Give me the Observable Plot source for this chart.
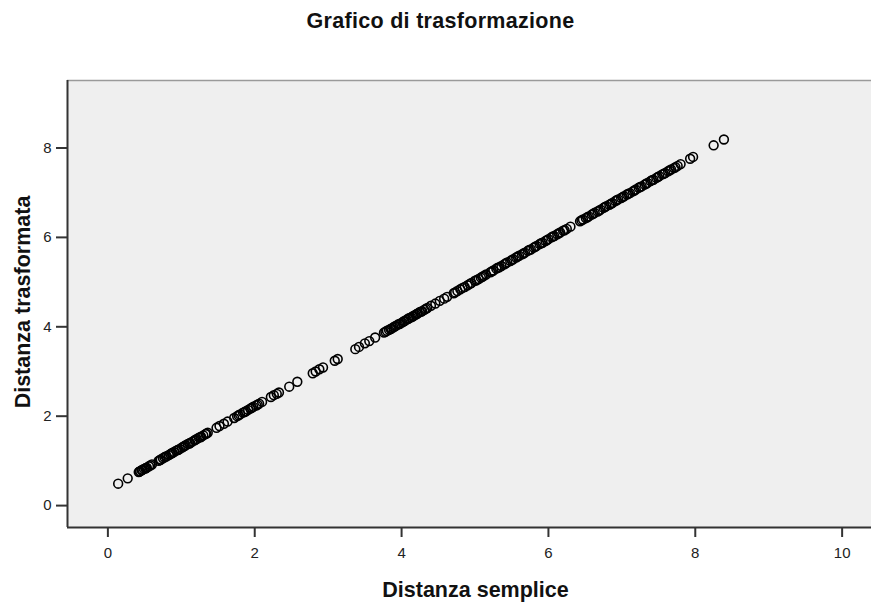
<!DOCTYPE html>
<html>
<head>
<meta charset="utf-8">
<script src="https://cdn.jsdelivr.net/npm/d3@7"></script>
<script src="https://cdn.jsdelivr.net/npm/@observablehq/plot@0.6"></script>
<style>
  html, body { margin: 0; padding: 0; background: white; }
  .lbl { letter-spacing: 0.3px; }
</style>
</head>
<body>
<div id="chart"></div>
<script>
const title = "Grafico di trasformazione";
const xLabel = "Distanza semplice";
const yLabel = "Distanza trasformata";
const xTicks = [0, 2, 4, 6, 8, 10];
const yTicks = [0, 2, 4, 6, 8];

// Distanza semplice (x) values
const xs = [
  0.14, 0.27, 0.42, 0.43, 0.44, 0.46, 0.47, 0.49, 0.51, 0.52, 0.53, 0.56, 0.58, 0.60,
  0.69, 0.71, 0.72, 0.75, 0.77, 0.79, 0.80, 0.83, 0.85, 0.87, 0.88, 0.90, 0.93, 0.95, 0.96, 0.98, 1.01, 1.03, 1.04, 1.06, 1.09, 1.11, 1.12, 1.15, 1.18, 1.19, 1.21, 1.24, 1.26, 1.27, 1.30, 1.33, 1.34, 1.36,
  1.48, 1.52, 1.58, 1.63,
  1.72, 1.76, 1.78, 1.80, 1.84, 1.86, 1.88, 1.91, 1.94, 1.96, 1.98, 2.02, 2.04, 2.06, 2.10,
  2.22, 2.26, 2.30, 2.33,
  2.47, 2.58,
  2.79, 2.83, 2.88, 2.93,
  3.09, 3.13,
  3.37, 3.42, 3.50, 3.56, 3.64,
  3.76, 3.78, 3.80, 3.83, 3.85, 3.86, 3.89, 3.91, 3.92, 3.95, 3.97, 3.98, 4.01, 4.03, 4.04, 4.07, 4.09, 4.10, 4.13, 4.15, 4.16, 4.19, 4.21, 4.22, 4.25, 4.27, 4.28, 4.31, 4.33, 4.35,
  4.40, 4.46, 4.52, 4.58, 4.62,
  4.71, 4.73, 4.76, 4.80, 4.83, 4.86, 4.90, 4.93, 4.95, 5.00, 5.02, 5.05, 5.08, 5.10, 5.12, 5.15,
  5.21, 5.23, 5.25, 5.29, 5.31, 5.33, 5.36, 5.40, 5.42, 5.44, 5.48, 5.50, 5.52, 5.56, 5.58, 5.60, 5.64, 5.66, 5.68, 5.72, 5.74, 5.76, 5.80, 5.82, 5.84, 5.88, 5.90, 5.92, 5.96, 5.98, 6.00, 6.04, 6.06, 6.08, 6.12, 6.14, 6.16, 6.20, 6.22, 6.25, 6.30,
  6.43, 6.45, 6.47, 6.51, 6.53, 6.55, 6.59, 6.61, 6.63, 6.67, 6.69, 6.71, 6.75, 6.77, 6.79, 6.83, 6.85, 6.87, 6.91, 6.93, 6.95, 6.99, 7.01, 7.03, 7.07, 7.09, 7.11, 7.15, 7.17, 7.19, 7.23, 7.25, 7.27, 7.31, 7.33, 7.35, 7.39, 7.41, 7.43, 7.47, 7.49, 7.51, 7.55, 7.57, 7.59, 7.63, 7.65, 7.67, 7.71, 7.73, 7.76,
  7.80, 7.93, 7.97, 8.25, 8.39
];

// Distanza trasformata (y) values
const ys = [
  0.49, 0.61, 0.75, 0.76, 0.77, 0.79, 0.80, 0.82, 0.83, 0.84, 0.85, 0.88, 0.90, 0.92,
  1.00, 1.02, 1.03, 1.06, 1.08, 1.10, 1.10, 1.13, 1.15, 1.17, 1.18, 1.20, 1.23, 1.24, 1.25, 1.27, 1.30, 1.32, 1.33, 1.35, 1.38, 1.39, 1.40, 1.43, 1.46, 1.47, 1.49, 1.52, 1.53, 1.54, 1.57, 1.60, 1.61, 1.63,
  1.74, 1.78, 1.83, 1.88,
  1.96, 2.00, 2.02, 2.04, 2.08, 2.09, 2.11, 2.14, 2.17, 2.19, 2.21, 2.24, 2.26, 2.28, 2.32,
  2.43, 2.47, 2.50, 2.53,
  2.66, 2.77,
  2.96, 3.00, 3.05, 3.09,
  3.24, 3.28,
  3.50, 3.55, 3.63, 3.68, 3.76,
  3.87, 3.89, 3.91, 3.93, 3.95, 3.96, 3.99, 4.01, 4.02, 4.05, 4.06, 4.07, 4.10, 4.12, 4.13, 4.16, 4.18, 4.19, 4.21, 4.23, 4.24, 4.27, 4.29, 4.30, 4.33, 4.34, 4.35, 4.38, 4.40, 4.42,
  4.47, 4.52, 4.58, 4.63, 4.67,
  4.75, 4.77, 4.80, 4.84, 4.87, 4.89, 4.93, 4.96, 4.98, 5.03, 5.04, 5.07, 5.10, 5.12, 5.14, 5.17,
  5.22, 5.24, 5.26, 5.30, 5.32, 5.33, 5.36, 5.40, 5.42, 5.44, 5.47, 5.49, 5.51, 5.55, 5.57, 5.59, 5.62, 5.64, 5.66, 5.70, 5.72, 5.73, 5.77, 5.79, 5.81, 5.85, 5.87, 5.88, 5.92, 5.94, 5.96, 6.00, 6.02, 6.03, 6.07, 6.09, 6.11, 6.15, 6.16, 6.19, 6.24,
  6.36, 6.38, 6.40, 6.43, 6.45, 6.47, 6.51, 6.53, 6.55, 6.58, 6.60, 6.62, 6.66, 6.68, 6.70, 6.73, 6.75, 6.77, 6.81, 6.83, 6.85, 6.88, 6.90, 6.92, 6.96, 6.98, 6.99, 7.03, 7.05, 7.07, 7.11, 7.13, 7.14, 7.18, 7.20, 7.22, 7.26, 7.28, 7.29, 7.33, 7.35, 7.37, 7.41, 7.42, 7.44, 7.48, 7.50, 7.52, 7.55, 7.57, 7.60,
  7.64, 7.76, 7.80, 8.06, 8.19
];

const data = xs.map((x, i) => ({x, y: ys[i]}));

const xDomain = [-0.55, 10.4];
const yDomain = [-0.49, 9.51];

const chart = Plot.plot({
  width: 871,
  height: 602,
  marginLeft: 67,
  marginRight: 0,
  marginTop: 80,
  marginBottom: 75,
  x: {domain: xDomain, label: null},
  y: {domain: yDomain, label: null},
  style: {
    fontFamily: "'Liberation Sans', Arial, sans-serif",
    fontSize: "15px",
    color: "#222",
    background: "white",
    overflow: "visible"
  },
  marks: [
    Plot.frame({fill: "#efefef", stroke: null}),
    Plot.ruleY([yDomain[1]], {stroke: "#9a9a9a", strokeWidth: 1.5}),
    Plot.ruleX([xDomain[0]], {stroke: "#333", strokeWidth: 2}),
    Plot.ruleY([yDomain[0]], {stroke: "#333", strokeWidth: 2}),
    Plot.axisX({ticks: xTicks, tickSize: 10, tickPadding: 10, stroke: "#333", strokeWidth: 2, fontSize: 15, label: null, tickFormat: d => String(d)}),
    Plot.axisY({ticks: yTicks, tickSize: 11, tickPadding: 5, stroke: "#333", strokeWidth: 2, fontSize: 15, label: null, tickFormat: d => String(d)}),
    Plot.dot(data, {x: "x", y: "y", r: 4.4, stroke: "black", fill: "none", strokeWidth: 1.6}),
    Plot.text([title], {frameAnchor: "top", textAnchor: "middle", lineAnchor: "middle", dx: -29, dy: -59, fontSize: 21.5, fontWeight: "bold", fill: "#111", className: "lbl"}),
    Plot.text([xLabel], {frameAnchor: "bottom", textAnchor: "middle", lineAnchor: "middle", dx: 6, dy: 63, fontSize: 21.5, fontWeight: "bold", fill: "#111"}),
    Plot.text([yLabel], {frameAnchor: "left", textAnchor: "middle", lineAnchor: "middle", dx: -44, dy: -2, rotate: -90, fontSize: 21.5, fontWeight: "bold", fill: "#111"})
  ]
});

document.getElementById("chart").appendChild(chart);
</script>
</body>
</html>
